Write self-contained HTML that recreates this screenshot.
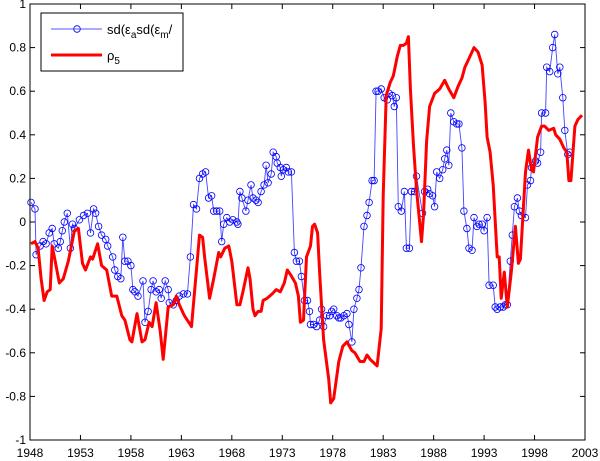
<!DOCTYPE html>
<html><head><meta charset="utf-8"><style>
html,body{margin:0;padding:0;background:#fff;}
svg{display:block;font-family:"Liberation Sans",Arial,sans-serif;}
</style></head><body>
<svg id="chart" width="600" height="461" viewBox="0 0 600 461" xmlns="http://www.w3.org/2000/svg">
<rect x="0" y="0" width="600" height="461" fill="#fff"/>
<g id="series"></g>
<g id="axes"></g>
<g id="legend">
<rect x="41" y="13" width="142" height="58" fill="#fff" stroke="#000" stroke-width="1"/>
<g>
<line x1="51" y1="29" x2="102" y2="29" stroke="#5555ff" stroke-width="1"/>
<circle cx="77" cy="29" r="3.3" fill="none" stroke="#0000ff" stroke-width="0.8"/>
<text x="107" y="34" font-size="13">sd(ε<tspan font-size="10" dy="4">a</tspan><tspan dy="-4">sd(ε</tspan><tspan font-size="10" dy="4">m</tspan><tspan dy="-4">/</tspan></text>
</g>
<g>
<line x1="51" y1="55" x2="102" y2="55" stroke="#ff0000" stroke-width="3"/>
<text x="107" y="60" font-size="13">ρ<tspan font-size="10" dy="4">5</tspan></text>
</g>
</g>
</svg>
<script>
const blueYears=[1948.1,1948.5,1948.6,1949.0,1949.3,1949.6,1949.9,1950.2,1950.4,1950.8,1951.0,1951.2,1951.4,1951.7,1952.0,1952.2,1952.4,1952.9,1953.3,1953.7,1954.0,1954.3,1954.5,1954.8,1955.1,1955.5,1955.7,1956.2,1956.4,1956.7,1957.0,1957.2,1957.4,1957.7,1958.0,1958.2,1958.4,1958.7,1959.2,1959.4,1959.7,1960.0,1960.2,1960.5,1960.8,1961.0,1961.4,1961.7,1961.8,1962.2,1962.5,1962.8,1963.2,1963.6,1963.9,1964.2,1964.5,1964.8,1965.1,1965.4,1965.7,1966.0,1966.2,1966.5,1966.8,1967.0,1967.2,1967.5,1967.8,1968.1,1968.5,1968.6,1968.8,1969.0,1969.4,1969.6,1969.9,1970.1,1970.4,1970.6,1970.9,1971.2,1971.4,1971.6,1971.9,1972.1,1972.4,1972.5,1972.8,1972.9,1973.1,1973.4,1973.6,1973.9,1974.2,1974.4,1974.7,1974.9,1975.2,1975.5,1975.7,1975.8,1976.1,1976.4,1976.7,1976.9,1977.1,1977.4,1977.7,1977.9,1978.1,1978.4,1978.6,1978.8,1979.1,1979.4,1979.6,1979.9,1980.1,1980.4,1980.6,1980.8,1981.1,1981.4,1981.6,1981.9,1982.1,1982.3,1982.5,1982.8,1983.1,1983.4,1983.6,1983.9,1984.1,1984.3,1984.5,1984.8,1985.1,1985.3,1985.6,1985.8,1986.1,1986.3,1986.9,1987.1,1987.4,1987.6,1987.9,1988.1,1988.3,1988.6,1988.9,1989.1,1989.3,1989.5,1989.7,1990.0,1990.3,1990.5,1990.8,1991.0,1991.3,1991.5,1991.8,1992.0,1992.3,1992.5,1992.8,1993.0,1993.3,1993.5,1993.9,1994.1,1994.3,1994.6,1994.9,1995.1,1995.3,1995.6,1995.8,1996.0,1996.3,1996.5,1996.7,1997.1,1997.3,1997.6,1997.7,1998.1,1998.3,1998.6,1998.7,1999.1,1999.2,1999.5,1999.8,2000.0,2000.3,2000.5,2000.8,2001.0,2001.3,2001.5];
const blueValues=[0.09,0.06,-0.15,-0.11,-0.09,-0.10,-0.05,-0.03,-0.10,-0.12,-0.09,-0.04,0.00,0.04,-0.12,-0.01,-0.03,0.01,0.03,0.04,-0.05,0.06,0.04,-0.02,-0.06,-0.08,-0.11,-0.16,-0.22,-0.25,-0.26,-0.07,-0.18,-0.18,-0.20,-0.31,-0.32,-0.34,-0.27,-0.46,-0.41,-0.31,-0.27,-0.32,-0.31,-0.35,-0.27,-0.31,-0.37,-0.38,-0.36,-0.34,-0.33,-0.33,-0.16,0.08,0.06,0.20,0.22,0.23,0.11,0.12,0.05,0.05,0.05,-0.09,-0.01,0.02,0.00,0.01,0.00,-0.01,0.14,0.11,0.05,0.10,0.17,0.11,0.10,0.09,0.14,0.17,0.26,0.18,0.22,0.32,0.30,0.27,0.25,0.21,0.24,0.25,0.23,0.23,-0.14,-0.18,-0.18,-0.25,-0.36,-0.36,-0.41,-0.47,-0.47,-0.48,-0.45,-0.40,-0.48,-0.43,-0.43,-0.41,-0.40,-0.43,-0.44,-0.44,-0.43,-0.42,-0.47,-0.55,-0.40,-0.35,-0.31,-0.21,-0.02,0.03,0.09,0.19,0.19,0.60,0.60,0.61,0.57,0.56,0.59,0.58,0.53,0.57,0.07,0.05,0.14,-0.12,-0.12,0.14,0.14,0.21,0.04,0.14,0.15,0.13,0.12,0.07,0.23,0.20,0.24,0.29,0.33,0.26,0.50,0.46,0.45,0.45,0.34,0.05,-0.03,-0.12,-0.13,0.02,-0.02,-0.01,-0.01,-0.04,0.02,-0.29,-0.29,-0.39,-0.40,-0.39,-0.39,-0.38,-0.38,-0.18,-0.06,0.07,0.11,0.05,0.03,0.02,0.17,0.19,0.25,0.28,0.27,0.32,0.50,0.50,0.71,0.69,0.80,0.86,0.68,0.71,0.57,0.42,0.31,0.32];
const redYears=[1948.1,1948.5,1948.8,1949.1,1949.4,1949.7,1950.0,1950.2,1950.5,1950.9,1951.3,1951.8,1952.1,1952.4,1952.8,1953.2,1953.5,1954.0,1954.2,1954.7,1955.1,1955.6,1956.1,1956.6,1957.1,1957.4,1957.9,1958.1,1958.6,1959.1,1959.4,1959.8,1960.1,1960.5,1960.9,1961.2,1961.7,1962.2,1962.5,1962.8,1963.3,1964.0,1964.8,1965.1,1965.3,1965.8,1966.2,1966.7,1966.9,1967.3,1967.7,1968.0,1968.5,1968.8,1969.1,1969.6,1969.8,1970.1,1970.3,1970.6,1970.9,1971.1,1971.5,1972.0,1972.4,1972.8,1973.2,1973.5,1973.8,1974.3,1974.6,1974.8,1975.1,1975.4,1975.8,1976.0,1976.2,1976.5,1976.7,1977.1,1977.6,1977.8,1978.1,1978.6,1979.0,1979.4,1979.9,1980.2,1980.7,1981.1,1981.4,1981.7,1982.4,1982.8,1983.0,1983.3,1983.7,1984.0,1984.4,1984.7,1985.0,1985.3,1985.5,1985.7,1986.0,1986.3,1986.8,1987.0,1987.3,1987.6,1988.1,1988.6,1989.1,1989.5,1990.0,1990.4,1990.8,1991.1,1991.5,1992.0,1992.4,1992.8,1993.1,1993.3,1993.6,1993.9,1994.3,1994.5,1994.7,1995.0,1995.3,1995.7,1996.1,1996.4,1996.6,1997.1,1997.4,1997.7,1997.9,1998.3,1998.7,1999.0,1999.4,1999.9,2000.1,2000.5,2000.9,2001.2,2001.4,2001.6,2002.0,2002.3,2002.7];
const redValues=[-0.10,-0.09,-0.12,-0.26,-0.36,-0.32,-0.31,-0.11,-0.18,-0.28,-0.26,-0.18,-0.11,-0.04,-0.03,-0.19,-0.22,-0.16,-0.17,-0.10,-0.20,-0.22,-0.34,-0.34,-0.43,-0.45,-0.54,-0.55,-0.42,-0.55,-0.54,-0.46,-0.48,-0.37,-0.50,-0.63,-0.39,-0.38,-0.34,-0.38,-0.43,-0.48,-0.06,-0.07,-0.16,-0.35,-0.26,-0.14,-0.16,-0.12,-0.11,-0.18,-0.38,-0.38,-0.32,-0.21,-0.26,-0.40,-0.43,-0.41,-0.41,-0.36,-0.35,-0.33,-0.31,-0.32,-0.28,-0.22,-0.24,-0.28,-0.34,-0.46,-0.45,-0.16,-0.11,-0.02,-0.01,-0.05,-0.23,-0.54,-0.72,-0.83,-0.81,-0.64,-0.57,-0.55,-0.59,-0.60,-0.64,-0.64,-0.61,-0.63,-0.66,-0.49,0.12,0.58,0.64,0.67,0.76,0.81,0.81,0.82,0.85,0.61,0.35,0.15,-0.09,0.03,0.37,0.53,0.59,0.61,0.65,0.61,0.57,0.62,0.66,0.71,0.75,0.80,0.78,0.72,0.55,0.39,0.32,0.17,-0.16,-0.16,-0.35,-0.23,-0.39,-0.23,-0.02,-0.19,-0.17,0.23,0.33,0.24,0.23,0.39,0.44,0.44,0.42,0.43,0.40,0.38,0.34,0.32,0.19,0.19,0.44,0.47,0.49];
const xTicks=[1948,1953,1958,1963,1968,1973,1978,1983,1988,1993,1998,2003];
const yTicks=[-1,-0.8,-0.6,-0.4,-0.2,0,0.2,0.4,0.6,0.8,1];
const yTickLabels=["-1","-0.8","-0.6","-0.4","-0.2","0","0.2","0.4","0.6","0.8","1"];

const L=30,R=585,T=4,B=440;
const xS=v=>L+(v-1948)/(2003-1948)*(R-L);
const yS=v=>B-(v+1)/2*(B-T);
const NS="http://www.w3.org/2000/svg";
const series=document.getElementById('series');
const axes=document.getElementById('axes');
function mk(tag,attrs,parent){const e=document.createElementNS(NS,tag);for(const k in attrs)e.setAttribute(k,attrs[k]);parent.appendChild(e);return e;}

// blue line + markers
let d=blueYears.map((y,i)=>(i?'L':'M')+xS(y).toFixed(1)+' '+yS(blueValues[i]).toFixed(1)).join(' ');
const bl=mk('path',{d:d,fill:'none',stroke:'#4444ff','stroke-width':'0.9'},series);


blueYears.forEach((y,i)=>{
  const c=mk('circle',{cx:xS(y).toFixed(1),cy:yS(blueValues[i]).toFixed(1),r:'3.3',fill:'none',stroke:'#0000ff','stroke-width':'0.8'},series);
  
  
});
// red line
d=redYears.map((y,i)=>(i?'L':'M')+xS(y).toFixed(1)+' '+yS(redValues[i]).toFixed(1)).join(' ');
const rl=mk('path',{d:d,fill:'none',stroke:'#ff0000','stroke-width':'3','stroke-linejoin':'round'},series);



// axes box
const box=mk('rect',{x:L,y:T,width:R-L,height:B-T,fill:'none',stroke:'#000','stroke-width':'1'},axes);


xTicks.forEach(t=>{
  const x=xS(t);
  mk('line',{x1:x,y1:B,x2:x,y2:B-5,stroke:'#000','stroke-width':'1'},axes);
  mk('line',{x1:x,y1:T,x2:x,y2:T+5,stroke:'#000','stroke-width':'1'},axes);
  const tx=mk('text',{x:x,y:B+17,'font-size':'12','text-anchor':'middle'},axes);
  tx.textContent=String(t);
  
  
});
yTicks.forEach((t,i)=>{
  const y=yS(t);
  mk('line',{x1:L,y1:y,x2:L+5,y2:y,stroke:'#000','stroke-width':'1'},axes);
  mk('line',{x1:R,y1:y,x2:R-5,y2:y,stroke:'#000','stroke-width':'1'},axes);
  const tx=mk('text',{x:L-4,y:y+4,'font-size':'12','text-anchor':'end'},axes);
  tx.textContent=yTickLabels[i];
  
  
});
</script>
</body></html>
